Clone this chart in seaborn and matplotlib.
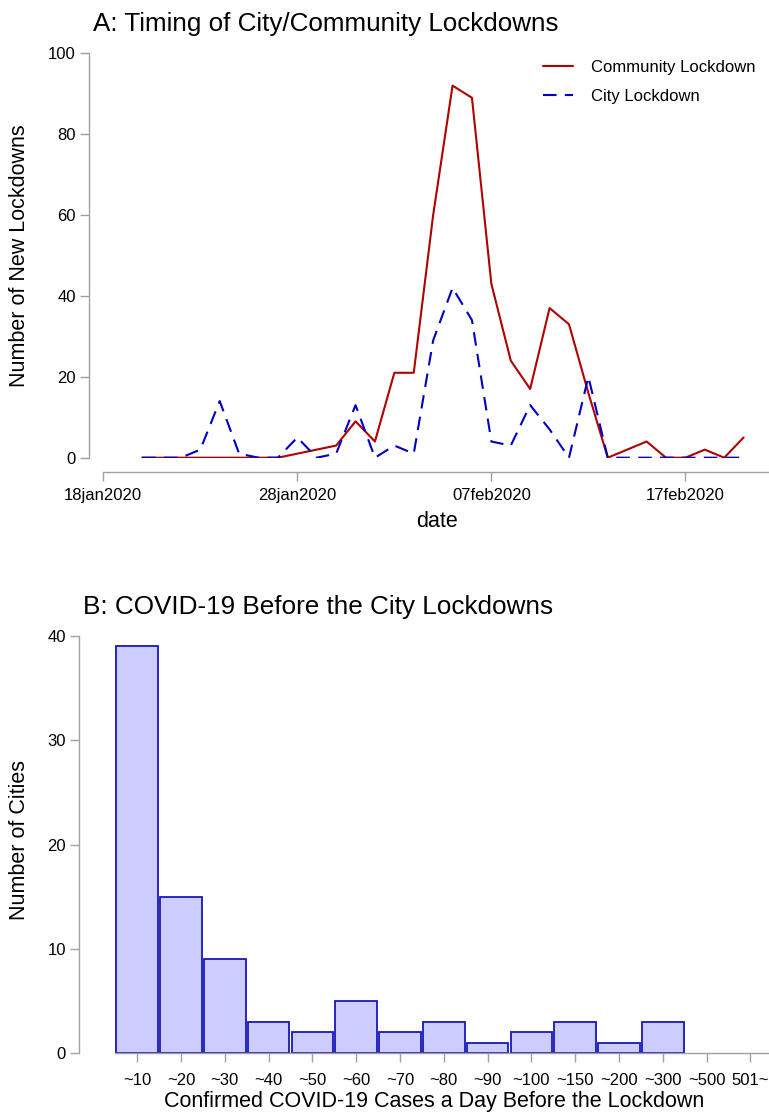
import numpy as np
import pandas as pd
import matplotlib
matplotlib.use("Agg")
import matplotlib.pyplot as plt
import matplotlib.dates as mdates
import seaborn as sns

# ---------------- data ----------------
dates = pd.date_range("2020-01-20", "2020-02-20", freq="D")
community_lockdown = [0, 0, 0, 0, 0, 0, 0, 0, 1, 2, 3, 9, 4, 21, 21, 60,
                      92, 89, 43, 24, 17, 37, 33, 16, 0, 2, 4, 0, 0, 2, 0, 5]
city_lockdown = [0, 0, 0, 2, 14, 1, 0, 0, 5, 0, 1, 13, 0, 3, 1, 29,
                 42, 34, 4, 3, 13, 7, 0, 20, 0, 0, 0, 0, 0, 0, 0, 0]
date_ticks = ["2020-01-18", "2020-01-28", "2020-02-07", "2020-02-17"]
date_tick_labels = ["18jan2020", "28jan2020", "07feb2020", "17feb2020"]

case_bins = ["~10", "~20", "~30", "~40", "~50", "~60", "~70", "~80", "~90",
             "~100", "~150", "~200", "~300", "~500", "501~"]
city_counts = [39, 15, 9, 3, 2, 5, 2, 3, 1, 2, 3, 1, 3, 0, 0]

# ---------------- style ----------------
sns.set_theme(style="white")
plt.rcParams["font.family"] = ["Liberation Sans", "DejaVu Sans"]
plt.rcParams["text.color"] = "black"
plt.rcParams["axes.labelcolor"] = "black"
plt.rcParams["legend.labelcolor"] = "black"
RED = "#B00000"
BLUE = "#0000C0"
FILL = "#CCCCFF"
EDGE = "#1818B8"
SPINE = "#A0A0A0"
W, H = 769, 1114

fig = plt.figure(figsize=(W / 100, H / 100), dpi=100)

def px_axes(left, right, top, bottom):
    return fig.add_axes([left / W, 1 - bottom / H, (right - left) / W, (bottom - top) / H])

def style_axes(ax, left_off, bottom_off, xpad):
    for s in ["top", "right"]:
        ax.spines[s].set_visible(False)
    for s in ["left", "bottom"]:
        ax.spines[s].set_color(SPINE)
        ax.spines[s].set_linewidth(1.0)
    ax.spines["left"].set_position(("outward", left_off))
    ax.spines["bottom"].set_position(("outward", bottom_off))
    ax.tick_params(axis="both", which="major", length=6.5, width=1.0, color=SPINE,
                   labelsize=12, labelcolor="black", left=True, bottom=True)
    ax.tick_params(axis="y", pad=3)
    ax.tick_params(axis="x", pad=xpad)
    ax.grid(False)
    ax.set_facecolor("white")

# ---------------- panel A ----------------
ax1 = px_axes(103.3, 769, 53.3, 457.7)
dfA = pd.DataFrame({"date": dates, "community": community_lockdown, "city": city_lockdown})
sns.lineplot(data=dfA, x="date", y="community", ax=ax1, color=RED, linewidth=1.5,
             label="Community Lockdown")
sns.lineplot(data=dfA, x="date", y="city", ax=ax1, color=BLUE, linewidth=1.5,
             linestyle=(0, (6.5, 4)), label="City Lockdown")
x0 = mdates.date2num(pd.Timestamp("2020-01-18"))
x1 = mdates.date2num(pd.Timestamp("2020-02-17"))
px_per_day = (685.4 - 103.3) / (x1 - x0)
ax1.set_xlim(x0, x0 + (769 - 103.3) / px_per_day)
ax1.set_ylim(0, 100)
ax1.set_yticks([0, 20, 40, 60, 80, 100])
ax1.set_xticks([mdates.date2num(pd.Timestamp(d)) for d in date_ticks])
ax1.set_xticklabels(date_tick_labels)
ax1.set_xlabel("")
ax1.set_ylabel("")
style_axes(ax1, 10.3, 10.0, 5.5)
leg = ax1.legend(loc="upper left", bbox_to_anchor=(0.660, 0.983), frameon=False,
                 fontsize=12, handlelength=1.8, handletextpad=1.1, labelspacing=0.8,
                 borderpad=0, borderaxespad=0)
for t in leg.get_texts():
    t.set_color("black")

fig.text(93 / W, 1 - 31 / H, "A: Timing of City/Community Lockdowns", fontsize=18.7,
         ha="left", va="baseline", color="black")
fig.text(19.5 / W, 1 - 256 / H, "Number of New Lockdowns", fontsize=15.5, rotation=90,
         ha="center", va="center", color="black")
fig.text(437 / W, 1 - 522 / H, "date", fontsize=15.5, ha="center", va="center",
         color="black")

# ---------------- panel B ----------------
ax2 = px_axes(115.3, 769, 636, 1053.3)
dfB = pd.DataFrame({"bin": case_bins, "n": city_counts})
sns.barplot(data=dfB, x="bin", y="n", order=case_bins, color=FILL, saturation=1,
            edgecolor=EDGE, linewidth=1.3, width=0.95, ax=ax2)
for p in ax2.patches:
    if p.get_height() == 0:
        p.set_visible(False)
ax2.set_xlim(-0.5, -0.5 + (769 - 115.3) / 43.8)
ax2.set_ylim(0, 40)
ax2.set_yticks([0, 10, 20, 30, 40])
ax2.set_xlabel("")
ax2.set_ylabel("")
style_axes(ax2, 26.0, 0, 7.5)

fig.text(83 / W, 1 - 614 / H, "B: COVID-19 Before the City Lockdowns", fontsize=18.8,
         ha="left", va="baseline", color="black")
fig.text(19.5 / W, 1 - 840 / H, "Number of Cities", fontsize=15.5, rotation=90,
         ha="center", va="center", color="black")
fig.text(434.5 / W, 1 - 1101 / H, "Confirmed COVID-19 Cases a Day Before the Lockdown",
         fontsize=15.5, ha="center", va="center", color="black")

fig.savefig("out.png", dpi=100)
